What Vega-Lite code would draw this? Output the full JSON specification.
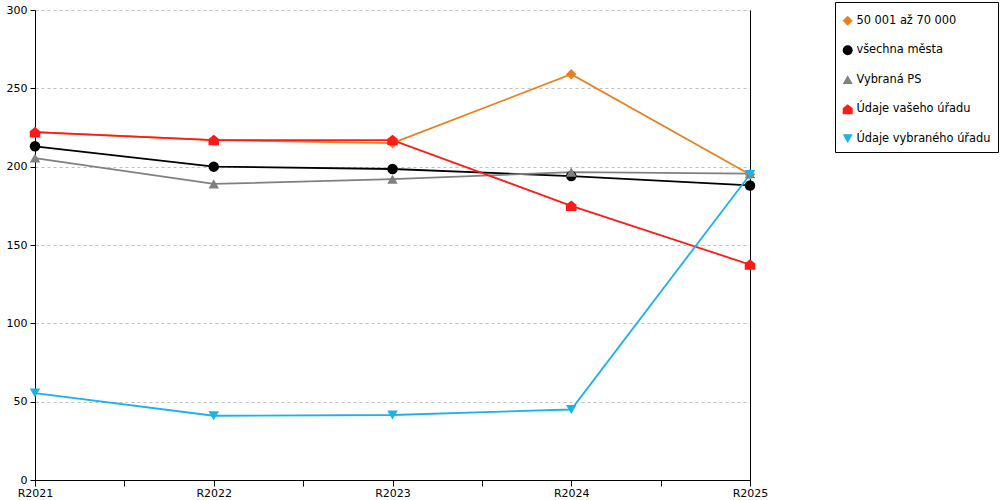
{
  "$schema": "https://vega.github.io/schema/vega-lite/v6.json",
  "width": 715,
  "height": 470,
  "autosize": {"type": "none"},
  "padding": {"left": 35, "top": 10, "right": 250, "bottom": 20},
  "background": "white",
  "config": {
    "view": {"stroke": null},
    "font": "DejaVu Sans",
    "axis": {"labelFont": "DejaVu Sans", "labelFontSize": 11, "labelColor": "#000", "domainColor": "#000", "tickColor": "#000", "title": null}
  },
  "data": {
    "values": [
      {"rok": 2021, "serie": "50 001 až 70 000", "hodnota": 222},
      {"rok": 2022, "serie": "50 001 až 70 000", "hodnota": 217},
      {"rok": 2023, "serie": "50 001 až 70 000", "hodnota": 215},
      {"rok": 2024, "serie": "50 001 až 70 000", "hodnota": 259},
      {"rok": 2025, "serie": "50 001 až 70 000", "hodnota": 195},
      {"rok": 2021, "serie": "všechna města", "hodnota": 213},
      {"rok": 2022, "serie": "všechna města", "hodnota": 200},
      {"rok": 2023, "serie": "všechna města", "hodnota": 198.5},
      {"rok": 2024, "serie": "všechna města", "hodnota": 194},
      {"rok": 2025, "serie": "všechna města", "hodnota": 188},
      {"rok": 2021, "serie": "Vybraná PS", "hodnota": 205.5},
      {"rok": 2022, "serie": "Vybraná PS", "hodnota": 189},
      {"rok": 2023, "serie": "Vybraná PS", "hodnota": 192},
      {"rok": 2024, "serie": "Vybraná PS", "hodnota": 196.5},
      {"rok": 2025, "serie": "Vybraná PS", "hodnota": 195.5},
      {"rok": 2021, "serie": "Údaje vašeho úřadu", "hodnota": 222},
      {"rok": 2022, "serie": "Údaje vašeho úřadu", "hodnota": 217},
      {"rok": 2023, "serie": "Údaje vašeho úřadu", "hodnota": 217},
      {"rok": 2024, "serie": "Údaje vašeho úřadu", "hodnota": 175},
      {"rok": 2025, "serie": "Údaje vašeho úřadu", "hodnota": 137.5},
      {"rok": 2021, "serie": "Údaje vybraného úřadu", "hodnota": 55.5},
      {"rok": 2022, "serie": "Údaje vybraného úřadu", "hodnota": 41},
      {"rok": 2023, "serie": "Údaje vybraného úřadu", "hodnota": 41.5},
      {"rok": 2024, "serie": "Údaje vybraného úřadu", "hodnota": 45},
      {"rok": 2025, "serie": "Údaje vybraného úřadu", "hodnota": 195}
    ]
  },
  "encoding": {
    "x": {
      "field": "rok", "type": "quantitative",
      "scale": {"domain": [2021, 2025], "nice": false, "zero": false},
      "axis": {
        "values": [2021, 2021.5, 2022, 2022.5, 2023, 2023.5, 2024, 2024.5, 2025],
        "labelExpr": "datum.value % 1 == 0 ? 'R' + datum.value : ''",
        "grid": false, "tickSize": 6, "labelPadding": 1, "labelFlush": false
      }
    },
    "color": {
      "field": "serie", "type": "nominal", "sort": null,
      "scale": {
        "domain": ["50 001 až 70 000", "všechna města", "Vybraná PS", "Údaje vašeho úřadu", "Údaje vybraného úřadu"],
        "range": ["#e8801e", "#000000", "#808080", "#ff1a1a", "#1ab2ea"]
      },
      "legend": {
        "orient": "none", "legendX": 800, "legendY": -8,
        "title": " ", "titleFontSize": 1, "titlePadding": 5,
        "strokeColor": "#000", "padding": 7,
        "labelFontSize": 11.4, "labelFont": "DejaVu Sans", "labelColor": "#000",
        "symbolSize": 100, "rowPadding": 16.5, "labelOffset": 3, "labelLimit": 200,
        "symbolStrokeWidth": 0, "fillColor": "white"
      }
    }
  },
  "layer": [
    {
      "mark": {"type": "line", "strokeWidth": 1.8},
      "encoding": {
        "y": {
          "field": "hodnota", "type": "quantitative",
          "scale": {"domain": [0, 300], "nice": false},
          "axis": {
            "values": [0, 50, 100, 150, 200, 250, 300],
            "grid": true, "gridColor": "#c0c0c0", "gridDash": [3, 3], "gridWidth": 1,
            "tickSize": 5, "labelPadding": 3
          }
        }
      }
    },
    {
      "mark": {"type": "point", "filled": true, "opacity": 1, "size": 110},
      "encoding": {
        "y": {"field": "hodnota", "type": "quantitative", "scale": {"domain": [0, 300], "nice": false}, "axis": null},
        "shape": {
          "field": "serie", "type": "nominal", "sort": null,
          "scale": {
            "domain": ["50 001 až 70 000", "všechna města", "Vybraná PS", "Údaje vašeho úřadu", "Údaje vybraného úřadu"],
            "range": ["diamond", "circle", "triangle-up", "M0,-1L1,-0.2L1,1L-1,1L-1,-0.2Z", "triangle-down"]
          }
        }
      }
    },
    {
      "mark": {"type": "line", "opacity": 0},
      "encoding": {
        "y": {
          "field": "hodnota", "type": "quantitative",
          "scale": {"domain": [0, 300], "nice": false},
          "axis": {"orient": "right", "labels": false, "ticks": false, "grid": false, "domain": true, "domainColor": "#000"}
        },
        "color": {"value": "transparent"}
      }
    }
  ],
  "resolve": {"scale": {"y": "independent"}}
}
